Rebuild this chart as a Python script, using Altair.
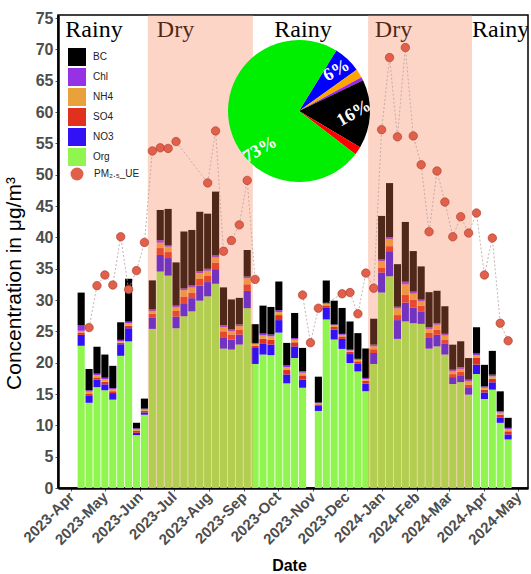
import altair as alt
import pandas as pd

# ---------------- data ----------------
bar_dates = [
    "2023-04-10", "2023-04-17", "2023-04-24", "2023-05-01", "2023-05-08", "2023-05-15",
    "2023-05-22", "2023-05-29", "2023-06-05", "2023-06-12", "2023-06-19", "2023-06-26",
    "2023-07-03", "2023-07-10", "2023-07-17", "2023-07-24", "2023-07-31", "2023-08-07",
    "2023-08-14", "2023-08-21", "2023-08-28", "2023-09-04", "2023-09-11", "2023-09-18",
    "2023-09-25", "2023-10-02", "2023-10-09", "2023-10-16", "2023-10-23",
    "2023-11-06", "2023-11-13", "2023-11-20", "2023-11-27", "2023-12-04", "2023-12-11",
    "2023-12-18", "2023-12-25", "2024-01-01", "2024-01-08", "2024-01-15", "2024-01-22",
    "2024-01-29", "2024-02-05", "2024-02-12", "2024-02-19", "2024-02-26", "2024-03-04",
    "2024-03-11", "2024-03-18", "2024-03-25", "2024-04-01", "2024-04-08", "2024-04-15",
    "2024-04-22",
]
org = [22.7, 13.6, 16.1, 15.6, 14.1, 21.1, 23.4, 8.44, 11.7, 25.4, 34.55, 33.9,
       25.5, 27.4, 28.2, 29.9, 30.6, 32.6, 22.25, 22.1, 22.9, 28.7, 19.8, 21.3,
       21.2, 24.8, 16.7, 20.75, 16.0,
       12.3, 26.9, 23.7, 22.2, 19.95, 18.6, 15.45, 19.8, 31.2, 33.8, 23.8, 26.6,
       26.3, 26.2, 22.25, 22.6, 21.3, 16.6, 16.9, 14.9, 18.2, 14.2, 15.7, 10.4, 7.75]
no3 = [1.75, 1.2, 1.2, 0.95, 1.05, 1.85, 2.1, 0.37, 0.37, 1.75, 2.65, 2.8,
       1.86, 1.96, 2.1, 2.4, 2.27, 2.33, 1.7, 1.6, 1.6, 2.76, 2.55, 1.7,
       1.7, 2.0, 1.43, 1.86, 1.33,
       0.8, 1.85, 1.6, 1.6, 1.43, 1.22, 1.22, 1.75, 3.2, 4.0, 3.0, 3.0,
       2.5, 2.0, 1.7, 1.86, 1.7, 1.1, 1.1, 1.06, 1.5, 1.06, 1.17, 0.8, 0.8]
so4 = [0.37, 0.3, 0.35, 0.4, 0.3, 0.25, 0.4, 0.3, 0.25, 0.64, 1.1, 0.96,
       0.9, 1.2, 0.9, 1.06, 1.06, 1.06, 1.06, 0.8, 0.8, 1.06, 0.35, 0.85,
       0.8, 0.8, 0.7, 0.65, 0.65,
       0.25, 0.4, 0.4, 0.4, 0.35, 0.4, 0.45, 0.6, 0.8, 0.8, 0.8, 1.2,
       1.22, 0.9, 0.8, 0.8, 0.7, 0.48, 0.53, 0.53, 1.06, 0.45, 0.55, 0.5, 0.5]
nh4 = [0.27, 0.3, 0.35, 0.4, 0.3, 0.25, 0.4, 0.25, 0.2, 0.43, 0.85, 0.85,
       0.58, 1.0, 0.8, 0.96, 0.74, 0.8, 0.69, 0.53, 0.53, 0.95, 0.3, 0.5,
       0.5, 0.5, 0.45, 0.43, 0.43,
       0.18, 0.25, 0.25, 0.25, 0.22, 0.25, 0.28, 0.45, 1.0, 1.15, 1.06, 1.7,
       1.0, 0.7, 0.64, 0.8, 0.64, 0.43, 0.48, 0.53, 0.43, 0.3, 0.4, 0.35, 0.35]
chl = [0.85, 0.2, 0.25, 0.25, 0.2, 0.2, 0.25, 0.15, 0.15, 0.27, 0.43, 0.2,
       0.27, 0.3, 0.32, 0.32, 0.32, 0.32, 0.27, 0.27, 0.27, 0.27, 0.15, 0.3,
       0.3, 0.3, 0.28, 0.25, 0.25,
       0.1, 0.15, 0.15, 0.15, 0.13, 0.15, 0.17, 0.28, 0.27, 0.27, 0.27, 0.42,
       0.32, 0.27, 0.27, 0.27, 0.27, 0.27, 0.27, 0.27, 0.27, 0.2, 0.27, 0.2, 0.2]
bc = [5.25, 3.4, 4.3, 3.7, 3.55, 2.8, 6.85, 0.9, 1.6, 4.65, 4.8, 5.84,
      6.9, 9.1, 8.87, 9.45, 8.8, 10.2, 6.05, 4.8, 4.25, 4.25, 3.0, 4.46,
      4.4, 4.56, 3.6, 4.0, 3.7,
      4.14, 3.57, 3.8, 4.14, 4.5, 4.1, 4.7, 4.14, 6.96, 8.65, 6.8, 9.55,
      6.48, 5.3, 5.6, 5.15, 4.4, 4.0, 4.14, 3.45, 4.2, 3.45, 3.8, 3.18, 1.6]

pm_dates = [
    "2023-04-17", "2023-04-24", "2023-05-01", "2023-05-08", "2023-05-15", "2023-05-22",
    "2023-05-29", "2023-06-05", "2023-06-12", "2023-06-19", "2023-06-26", "2023-07-03",
    "2023-07-31", "2023-08-07", "2023-08-14", "2023-08-21", "2023-08-28", "2023-09-04",
    "2023-09-11",
    "2023-10-23", "2023-10-30", "2023-11-06",
    "2023-11-27", "2023-12-04", "2023-12-11", "2023-12-18", "2023-12-25", "2024-01-01",
    "2024-01-08", "2024-01-15", "2024-01-22", "2024-01-29", "2024-02-05", "2024-02-12",
    "2024-02-19", "2024-02-26", "2024-03-04", "2024-03-11", "2024-03-18", "2024-03-25",
    "2024-04-01", "2024-04-08", "2024-04-15", "2024-04-22",
]
pm_values = [25.6, 32.3, 34.0, 32.4, 40.1, 31.7, 34.7, 39.2, 53.8, 54.3, 54.2, 55.3,
             48.7, 57.0, 37.8, 39.5, 42.0, 49.1, 33.3,
             30.8, 23.2, 28.7,
             31.0, 31.2, 27.8, 34.3, 31.9, 57.2, 68.7, 56.05, 70.3, 56.2, 51.6, 40.9,
             50.6, 45.65, 40.1, 43.3, 40.7, 43.9, 34.0, 39.9, 26.3, 23.5]

components = ["BC", "Chl", "NH4", "SO4", "NO3", "Org"]
component_colors = ["#000000", "#9632E6", "#E9A23B", "#E0301E", "#3311F5", "#91F550"]
stack_order = ["Org", "NO3", "SO4", "NH4", "Chl", "BC"]

pie_names = ["NO3", "NH4", "Chl", "BC", "SO4", "Org"]
pie_values = [6.3, 2.0, 0.8, 15.6, 1.9, 73.4]
pie_colors = ["#0000FF", "#FFA500", "#A020F0", "#000000", "#FF0000", "#00EE00"]
pie_label_frac = [0.5, 0.5, 0.5, 0.5, 0.5, 0.37]

season_names = ["Rainy", "Dry", "Rainy", "Dry", "Rainy"]
season_label_dates = ["2023-03-27", "2023-06-16", "2023-09-28", "2023-12-26", "2024-03-21"]
dry_starts = ["2023-06-08", "2023-12-20"]
dry_ends = ["2023-09-09", "2024-03-21"]
month_ticks = ["2023-04-01", "2023-05-01", "2023-06-01", "2023-07-01", "2023-08-01",
               "2023-09-01", "2023-10-01", "2023-11-01", "2023-12-01", "2024-01-01",
               "2024-02-01", "2024-03-01", "2024-04-01", "2024-05-01"]


def ms(s):
    return int(pd.Timestamp(s, tz="UTC").timestamp() * 1000)


DAY = 86400000
HALF = 3.15 * DAY

series = {"Org": org, "NO3": no3, "SO4": so4, "NH4": nh4, "Chl": chl, "BC": bc}
rows = []
for i, d in enumerate(bar_dates):
    c = ms(d)
    base = 0.0
    for name in stack_order:
        v = series[name][i]
        rows.append({"x": c - HALF, "x_end": c + HALF, "component": name,
                     "y": base, "y_end": base + v})
        base += v
bars_df = pd.DataFrame(rows)

pm_rows = []
seg = 0
prev = None
for d, v in zip(pm_dates, pm_values):
    t = ms(d)
    if prev is not None and t - prev > 28 * DAY:
        seg += 1
    pm_rows.append({"x": t, "y": v, "seg": seg, "series": "PM\u2082.\u2085_UE"})
    prev = t
pm_df = pd.DataFrame(pm_rows)

dry_df = pd.DataFrame({"x": [ms(s) for s in dry_starts], "x_end": [ms(e) for e in dry_ends]})
season_df = pd.DataFrame({"x": [ms(s) for s in season_label_dates], "label": season_names})

cum = 0.0
pie_rows = []
for k, (n, v, f) in enumerate(zip(pie_names, pie_values, pie_label_frac)):
    pie_rows.append({"name": n, "value": v, "order": k, "label_pos": cum + f * v,
                     "label": f"{round(v)}%" if v >= 5 else ""})
    cum += v
pie_df = pd.DataFrame(pie_rows)

# ---------------- scales & axes ----------------
W, H = 470, 473
xs = alt.Scale(type="utc", domain=[ms("2023-03-20T11:45"), ms("2024-05-09T14:00")], nice=False)
ys = alt.Scale(domain=[0, 75.5], nice=False, zero=True)
theta_scale = alt.Scale(domain=[0, 100], range=[0.553, 0.553 + 6.2832])

x_axis = alt.Axis(values=[ms(m) for m in month_ticks],
                  labelExpr="utcFormat(datum.value, '%Y-%b')",
                  labelOverlap=False, labelBound=False, labelFlush=False,
                  labelAngle=315, labelAlign="right", labelBaseline="middle",
                  labelFontSize=15, labelFontWeight="bold", labelColor="#4D4D4D",
                  labelPadding=3, tickSize=3, tickColor="#555555", domainColor="black",
                  domainWidth=2.5, grid=False, title="Date", titleFontSize=16,
                  titleFontWeight="bold", titleColor="black", titleX=231, titleY=82,
                  titleBaseline="alphabetic")
y_axis = alt.Axis(values=list(range(0, 80, 5)), labelFontSize=16, labelFontWeight="bold",
                  labelColor="#4D4D4D", labelPadding=2, tickSize=3, tickColor="#555555",
                  labelOverlap=False, labelFlush=False,
                  domainColor="black", domainWidth=2.5, grid=False,
                  title="Concentration in \u03bcg/m\u00b3", titleFontSize=21,
                  titleFontWeight="normal", titleColor="black", titleX=-38, titleY=268,
                  titleBaseline="alphabetic")

X = alt.X("x:T", scale=xs, axis=x_axis)
Y = alt.Y("y:Q", scale=ys, axis=y_axis)

bars = alt.Chart(bars_df).mark_bar().encode(
    x=X,
    x2="x_end:T",
    y=Y,
    y2="y_end:Q",
    color=alt.Color("component:N", scale=alt.Scale(domain=components, range=component_colors),
                    legend=alt.Legend(orient="none", legendX=10, legendY=33, title=None,
                                      symbolType="square", symbolSize=324,
                                      symbolStrokeWidth=0, labelFontSize=10,
                                      labelColor="#222222", labelOffset=7, rowPadding=2,
                                      padding=0)),
)

season_text = alt.Chart(season_df).mark_text(
    font="Liberation Serif", fontSize=24, align="left", baseline="alphabetic",
    color="black", clip=True,
).encode(
    x=X,
    y=alt.value(22),
    text="label:N",
)

dry_rect = alt.Chart(dry_df).mark_rect(color="#F87B50", opacity=0.32).encode(
    x=X,
    x2="x_end:T",
    y=alt.value(0),
    y2=alt.value(H),
)

pm_line = alt.Chart(pm_df).mark_line(color="#B8A0A0", strokeWidth=0.8, strokeDash=[2, 2]).encode(
    x=X,
    y=Y,
    detail="seg:N",
)

pm_points = alt.Chart(pm_df).mark_point(
    filled=True, size=72, color="#E0604B", stroke="#A8392A", strokeWidth=0.6, opacity=1,
).encode(
    x=X,
    y=Y,
    shape=alt.Shape("series:N", scale=alt.Scale(range=["circle"]),
                    legend=alt.Legend(orient="none", legendX=12, legendY=152, title=None,
                                      symbolSize=169, symbolFillColor="#E0604B",
                                      symbolStrokeColor="#A8392A", symbolStrokeWidth=0.8,
                                      labelFontSize=10, labelColor="#222222",
                                      labelOffset=10, padding=0)),
)

pie = alt.Chart(pie_df).mark_arc(radius=71).encode(
    theta=alt.Theta("value:Q", stack=True, scale=theta_scale),
    color=alt.Color("name:N", scale=alt.Scale(domain=pie_names, range=pie_colors), legend=None),
    order=alt.Order("order:Q"),
    x=alt.value(241),
    y=alt.value(96),
)

pie_labels = alt.Chart(pie_df).mark_text(
    radius=55, font="Liberation Serif", fontWeight="bold", fontSize=18, color="white",
    angle=330, align="center", baseline="middle",
).encode(
    theta=alt.Theta("label_pos:Q", scale=theta_scale),
    text="label:N",
    x=alt.value(241),
    y=alt.value(96),
)

chart = alt.layer(
    bars, season_text, dry_rect, pm_line, pm_points, pie, pie_labels
).resolve_scale(
    color="independent"
).properties(
    width=W, height=H,
    autosize=alt.AutoSizeParams(type="none"),
    padding={"left": 58, "top": 15, "right": 3, "bottom": 86},
    background="white",
).configure(
    font="Liberation Sans"
).configure_view(
    stroke="black", strokeWidth=1.5
)

chart.save("out.html", embed_options={"renderer": "svg", "actions": False})
